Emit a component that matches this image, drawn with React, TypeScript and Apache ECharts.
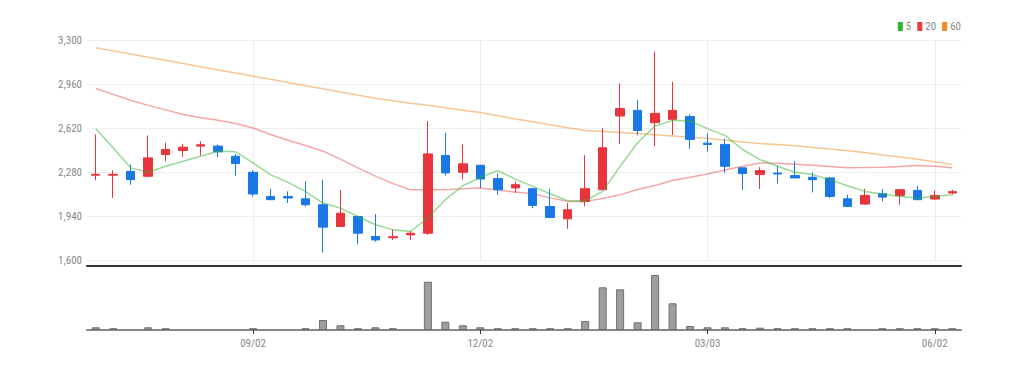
import React, { useEffect, useRef } from "react";
import * as echarts from "echarts";

const categories = [
  "07/01", "07/08", "07/15", "07/22", "07/29", "08/05", "08/12", "08/19", "08/26", "09/02",
  "09/09", "09/16", "09/23", "09/30", "10/07", "10/14", "10/21", "10/28", "11/04", "11/11",
  "11/18", "11/25", "12/02", "12/09", "12/16", "12/23", "12/30", "01/06", "01/13", "01/20",
  "01/27", "02/03", "02/10", "02/17", "02/24", "03/03", "03/10", "03/17", "03/24", "03/31",
  "04/07", "04/14", "04/21", "04/28", "05/05", "05/12", "05/19", "05/26", "06/02", "06/09",
];

const tickLabels = ["09/02", "12/02", "03/03", "06/02"];

// [open, close, low, high]
const candles = [
  [2255, 2262, 2216, 2570], [2255, 2262, 2079, 2293], [2285, 2221, 2182, 2337], [2247, 2389, 2240, 2563],
  [2415, 2454, 2363, 2506], [2446, 2472, 2397, 2498], [2480, 2490, 2407, 2518], [2480, 2436, 2394, 2493],
  [2402, 2345, 2252, 2420], [2278, 2110, 2091, 2293], [2091, 2066, 2066, 2149], [2091, 2079, 2040, 2130],
  [2073, 2027, 2014, 2208], [2027, 1854, 1657, 2221], [1859, 1962, 1859, 2141], [1936, 1807, 1722, 1942],
  [1781, 1755, 1742, 1955], [1772, 1780, 1755, 1838], [1794, 1807, 1755, 1825], [1807, 2420, 1794, 2674],
  [2407, 2273, 2252, 2583], [2278, 2343, 2221, 2493], [2332, 2226, 2157, 2332], [2229, 2143, 2105, 2268],
  [2157, 2182, 2118, 2208], [2151, 2022, 2001, 2157], [2014, 1928, 1924, 2151], [1918, 1988, 1841, 2040],
  [2053, 2151, 2014, 2410], [2143, 2467, 2143, 2622], [2713, 2770, 2498, 2964], [2756, 2601, 2563, 2837],
  [2661, 2733, 2480, 3209], [2687, 2756, 2565, 2977], [2708, 2532, 2459, 2726], [2503, 2493, 2436, 2578],
  [2493, 2324, 2273, 2537], [2312, 2268, 2143, 2312], [2260, 2291, 2149, 2317], [2272, 2265, 2190, 2330],
  [2252, 2234, 2234, 2363], [2239, 2221, 2122, 2278], [2234, 2091, 2079, 2242], [2073, 2014, 2009, 2105],
  [2032, 2099, 2027, 2149], [2112, 2086, 2053, 2149], [2099, 2143, 2027, 2149], [2138, 2066, 2066, 2174],
  [2071, 2099, 2066, 2138], [2118, 2128, 2105, 2143],
];

const ma5 = [
  2615, 2465, 2312, 2278, 2324, 2363, 2402, 2441, 2436, 2350,
  2260, 2200, 2130, 2040, 2001, 1936, 1872, 1833, 1820, 1924,
  2066, 2174, 2239, 2291, 2225, 2169, 2112, 2058, 2058, 2130,
  2324, 2506, 2635, 2679, 2674, 2615, 2563, 2454, 2376, 2324,
  2278, 2260, 2221, 2174, 2130, 2110, 2091, 2079, 2091, 2105,
];

const ma20 = [
  2925, 2880, 2835, 2795, 2760, 2725, 2700, 2680, 2655, 2620,
  2570, 2525, 2485, 2441, 2380, 2312, 2248, 2190, 2143, 2143,
  2143, 2150, 2157, 2140, 2125, 2112, 2080, 2053, 2053, 2075,
  2105, 2145, 2175, 2215, 2240, 2265, 2295, 2325, 2350, 2347,
  2340, 2332, 2322, 2312, 2314, 2317, 2322, 2330, 2325, 2312,
];

const ma60 = [
  3240, 3216, 3191, 3167, 3143, 3118, 3094, 3069, 3045, 3020,
  2996, 2972, 2947, 2923, 2898, 2874, 2850, 2830, 2812, 2795,
  2777, 2758, 2739, 2715, 2690, 2668, 2645, 2622, 2600, 2592,
  2585, 2577, 2568, 2558, 2548, 2540, 2525, 2512, 2500, 2492,
  2483, 2470, 2457, 2445, 2430, 2412, 2395, 2378, 2360, 2337,
];

// volume, thousands of shares
const volumes = [
  27, 18, 0, 27, 18, 0, 0, 0, 0, 18,
  0, 0, 18, 100, 47, 18, 27, 18, 0, 483,
  83, 47, 27, 18, 18, 18, 18, 18, 90, 427,
  407, 77, 550, 267, 40, 27, 27, 18, 23, 18,
  18, 18, 18, 18, 0, 18, 18, 18, 18, 18,
];

const FONT = "'Liberation Sans Narrow', 'Roboto Condensed', 'DejaVu Sans Condensed', Roboto, sans-serif";
const UP = "#e8343b";
const DOWN = "#1a78e6";

const showTick = (_i: number, v: string) => tickLabels.includes(v);

export default function App() {
  const ref = useRef<HTMLDivElement>(null);
  useEffect(() => {
    if (!ref.current) return;
    const chart = echarts.init(ref.current, null, { renderer: "svg" });
    const option: any = {
      animation: false,
      backgroundColor: "#fff",
      textStyle: { fontFamily: FONT },
      legend: {
        data: [
          { name: "5", itemStyle: { color: "#2db52d" } },
          { name: "20", itemStyle: { color: "#ee3a3a" } },
          { name: "60", itemStyle: { color: "#f38a2a" } },
        ],
        icon: "rect",
        itemWidth: 5,
        itemHeight: 9,
        itemGap: 6,
        right: 63,
        top: 21,
        padding: 0,
        textStyle: { color: "#888", fontSize: 11, fontFamily: FONT, padding: [0, 0, 0, -2] },
      },
      grid: [
        { left: 87, right: 63, top: 40, height: 220 },
        { left: 87, right: 63, top: 272, height: 58 },
      ],
      xAxis: [
        {
          type: "category",
          gridIndex: 0,
          data: categories,
          boundaryGap: true,
          offset: 6,
          axisLine: { show: true, lineStyle: { color: "#333", width: 2 } },
          axisTick: { show: false },
          axisLabel: { show: false },
          splitLine: {
            show: true,
            interval: showTick,
            alignWithLabel: true,
            lineStyle: { color: "#eee", width: 1 },
          },
        },
        {
          type: "category",
          gridIndex: 1,
          data: categories,
          boundaryGap: true,
          axisLine: { show: true, lineStyle: { color: "#888", width: 2 } },
          axisTick: {
            show: true,
            interval: showTick,
            alignWithLabel: true,
            length: 4,
            lineStyle: { color: "#333", width: 1 },
          },
          axisLabel: {
            show: true,
            interval: showTick,
            color: "#888",
            fontSize: 11,
            margin: 8,
            fontFamily: FONT,
          },
          splitLine: { show: false },
          z: 1,
        },
      ],
      yAxis: [
        {
          type: "value",
          gridIndex: 0,
          min: 1600,
          max: 3300,
          interval: 340,
          axisLine: { show: false },
          axisTick: { show: false },
          axisLabel: {
            color: "#888",
            fontSize: 11,
            margin: 5,
            fontFamily: FONT,
            formatter: (v: number) => v.toLocaleString("en-US"),
          },
          splitLine: { show: true, lineStyle: { color: "#eee", width: 1 } },
        },
        {
          type: "value",
          gridIndex: 1,
          min: 0,
          max: 580,
          show: false,
          splitLine: { show: false },
        },
      ],
      series: [
        {
          name: "price",
          type: "candlestick",
          xAxisIndex: 0,
          yAxisIndex: 0,
          barWidth: 9,
          data: candles,
          itemStyle: {
            color: UP,
            color0: DOWN,
            borderColor: UP,
            borderColor0: DOWN,
            borderWidth: 1,
          },
          z: 3,
        },
        {
          name: "5",
          type: "line",
          data: ma5,
          showSymbol: false,
          smooth: false,
          itemStyle: { color: "#2db52d" },
          lineStyle: { color: "#2db52d", width: 1.5, opacity: 0.5 },
          z: 4,
        },
        {
          name: "20",
          type: "line",
          data: ma20,
          showSymbol: false,
          smooth: false,
          itemStyle: { color: "#ee3a3a" },
          lineStyle: { color: "#ee3a3a", width: 1.5, opacity: 0.45 },
          z: 2,
        },
        {
          name: "60",
          type: "line",
          data: ma60,
          showSymbol: false,
          smooth: false,
          itemStyle: { color: "#f38a2a" },
          lineStyle: { color: "#f38a2a", width: 1.5, opacity: 0.5 },
          z: 2,
        },
        {
          name: "volume",
          type: "bar",
          xAxisIndex: 1,
          yAxisIndex: 1,
          barWidth: 8,
          data: volumes.map((v) => (v === 0 ? "-" : v)),
          itemStyle: { color: "#9e9e9e", borderColor: "#6f6f6f", borderWidth: 1 },
          z: 5,
        },
      ],
    };
    chart.setOption(option);
    return () => chart.dispose();
  }, []);
  return (
    <div
      ref={ref}
      style={{ position: "absolute", left: 0, top: 0, width: 1024, height: 371 }}
    />
  );
}
